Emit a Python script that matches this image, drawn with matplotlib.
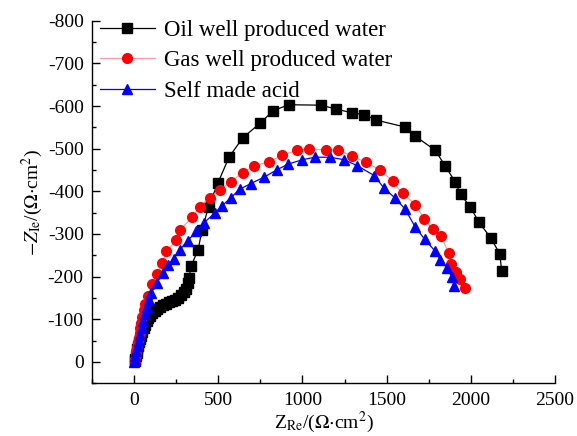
import matplotlib
matplotlib.use("Agg")
import matplotlib.pyplot as plt
from matplotlib.ticker import MultipleLocator

plt.rcParams["font.family"] = ["Liberation Serif", "DejaVu Serif"]
plt.rcParams["mathtext.fontset"] = "stix"
plt.rcParams["axes.unicode_minus"] = False

# Nyquist data: Z_Re and Z_Im (Ω·cm²)
oil_re = [5, 8, 12, 16, 20, 25, 30, 36, 42, 50, 58, 66, 75, 85, 95, 108, 122, 138,
          155, 172, 190, 208, 226, 244, 262, 280, 295, 308, 318, 326, 340, 380, 404,
          442, 497, 564, 644, 749, 826, 918, 1110, 1198, 1296, 1368, 1438, 1606,
          1671, 1789, 1848, 1906, 1939, 1997, 2049, 2118, 2171, 2183]
oil_im = [-2, -8, -15, -22, -30, -38, -46, -54, -62, -70, -79, -87, -95, -102, -108,
          -114, -119, -124, -129, -133, -136, -140, -143, -146, -150, -156, -163,
          -172, -185, -198, -226, -263, -310, -364, -419, -480, -525, -560, -589,
          -603, -602, -593, -584, -580, -567, -551, -529, -496, -459, -423, -393,
          -363, -327, -291, -254, -214]

gas_re = [3, 6, 10, 14, 18, 23, 28, 33, 38, 44, 50, 57, 67, 82, 106, 136, 168, 192,
          251, 275, 346, 390, 449, 509, 574, 644, 713, 801, 880, 969, 1039, 1140,
          1210, 1293, 1376, 1461, 1535, 1594, 1671, 1723, 1775, 1824, 1868, 1884,
          1910, 1938, 1965]
gas_im = [-2, -8, -16, -25, -35, -46, -57, -68, -80, -92, -105, -121, -137, -155,
          -183, -206, -232, -259, -286, -310, -340, -363, -384, -403, -423, -443,
          -460, -469, -485, -496, -499, -497, -497, -483, -468, -450, -424, -395,
          -369, -335, -311, -295, -255, -230, -210, -194, -173]

acid_re = [0, 3, 8, 14, 21, 28, 36, 45, 54, 64, 76, 88, 102, 136, 171, 201, 235,
           271, 318, 370, 414, 479, 523, 574, 628, 692, 771, 846, 915, 999, 1074,
           1164, 1249, 1326, 1426, 1485, 1551, 1610, 1670, 1725, 1785, 1818, 1858,
           1888, 1902]
acid_im = [0, -5, -14, -25, -37, -50, -64, -80, -96, -112, -128, -145, -162, -186,
           -208, -228, -242, -263, -284, -306, -326, -349, -366, -385, -405, -418,
           -433, -450, -464, -474, -480, -480, -474, -460, -437, -407, -384, -358,
           -316, -288, -261, -240, -220, -199, -179]

fig = plt.figure(figsize=(5.77, 4.36), dpi=100)
ax = fig.add_axes([0.1594, 0.1209, 0.8026, 0.8316])

ax.plot(oil_re, oil_im, color="black", lw=0.9, marker="s", ms=6.5,
        label="Oil well produced water")
ax.plot(gas_re, gas_im, color="#ff9a9a", lw=0.8, marker="o", ms=7,
        mfc="red", mec="red", label="Gas well produced water")
ax.plot(acid_re, acid_im, color="blue", lw=0.9, marker="^", ms=7.2,
        mfc="blue", mec="blue", label="Self made acid")

ax.set_xlim(-250, 2500)
ax.set_ylim(50, -800)
ax.xaxis.set_major_locator(MultipleLocator(500))
ax.xaxis.set_minor_locator(MultipleLocator(250))
ax.yaxis.set_major_locator(MultipleLocator(100))
ax.yaxis.set_minor_locator(MultipleLocator(50))
ax.tick_params(which="both", direction="in", labelsize=14, width=1, pad=6)
ax.tick_params(which="major", length=5.5)
ax.tick_params(which="minor", length=3.2)
for side in ("top", "right"):
    ax.spines[side].set_visible(False)
for side in ("left", "bottom"):
    ax.spines[side].set_linewidth(1.0)

ax.set_xlabel(r"Z$_{\mathrm{Re}}$/($\Omega$$\cdot$cm$^2$)", fontsize=14, labelpad=1)
ax.set_ylabel(r"$-Z_{\mathrm{Ie}}$/($\Omega$$\cdot$cm$^2$)", fontsize=14, labelpad=2)

ax.legend(loc="upper left", bbox_to_anchor=(0.017, 1.003), frameon=False,
          fontsize=16.5, handlelength=2.4, handletextpad=0.4, labelspacing=0.41,
          borderpad=0, borderaxespad=0)

fig.savefig("out.png", dpi=100)
